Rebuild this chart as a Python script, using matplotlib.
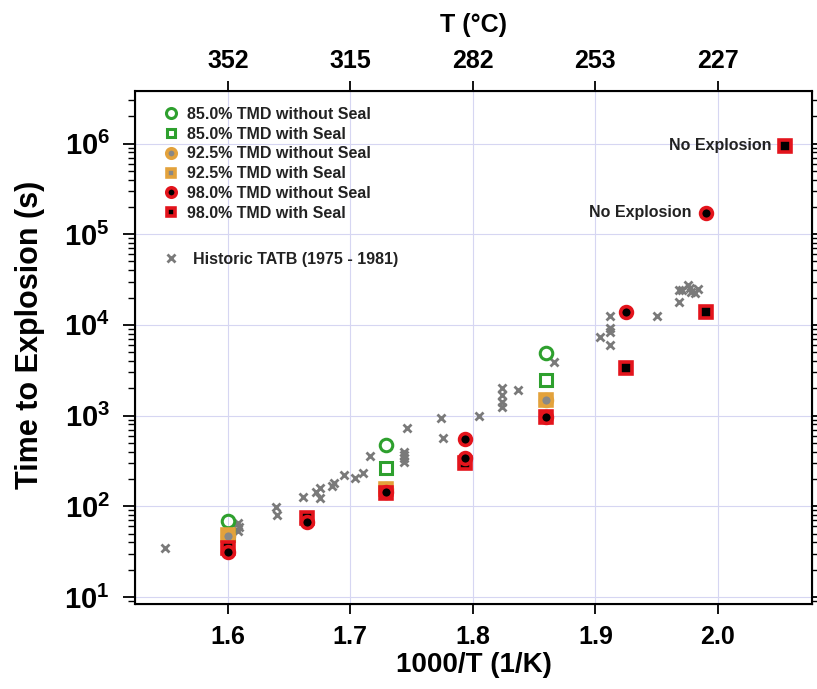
import numpy as np
import matplotlib.pyplot as plt
from matplotlib.ticker import FixedLocator, LogLocator, NullFormatter, FuncFormatter

plt.rcParams['font.family'] = ['Liberation Sans', 'DejaVu Sans']
plt.rcParams['font.weight'] = 'bold'
plt.rcParams['mathtext.fontset'] = 'custom'
plt.rcParams['mathtext.rm'] = 'Liberation Sans:bold'
plt.rcParams['mathtext.bf'] = 'Liberation Sans:bold'

# ODTX results, x = 1000/T (1/K), y = time to explosion (s)
tmd85_open_x = [1.600, 1.729, 1.860]
tmd85_open_y = [69, 472, 4860]
tmd85_seal_x = [1.600, 1.729, 1.860]
tmd85_seal_y = [48, 265, 2470]
tmd925_open_x = [1.600, 1.729, 1.860]
tmd925_open_y = [47, 155, 1480]
tmd925_seal_x = [1.600, 1.729, 1.860]
tmd925_seal_y = [48, 156, 1480]
tmd98_open_x = [1.600, 1.665, 1.729, 1.794, 1.794, 1.860, 1.925, 1.990]
tmd98_open_y = [31, 67, 144, 546, 337, 970, 13800, 173000]
tmd98_seal_x = [1.600, 1.665, 1.729, 1.794, 1.860, 1.925, 1.990, 2.055]
tmd98_seal_y = [34.5, 74, 140, 299, 975, 3350, 13800, 945000]

# historic TATB data set (1975 - 1981)
hist_x = [1.549, 1.608, 1.609, 1.608, 1.639, 1.640, 1.661, 1.672, 1.675, 1.675,
          1.685, 1.687, 1.695, 1.704, 1.710, 1.716, 1.744, 1.744, 1.744, 1.744,
          1.746, 1.774, 1.776, 1.805, 1.824, 1.824, 1.824, 1.824, 1.837, 1.866,
          1.904, 1.912, 1.912, 1.912, 1.912, 1.950, 1.968, 1.968, 1.971, 1.976,
          1.977, 1.978, 1.981, 1.984]
hist_y = [35, 66, 59, 54, 98, 81, 127, 143, 160, 123,
          167, 181, 220, 203, 234, 357, 398, 366, 340, 309,
          722, 931, 569, 980, 2000, 1700, 1420, 1250, 1910, 3930,
          7410, 12540, 9160, 8410, 6000, 12650, 18000, 24300, 24300, 27500,
          25300, 23200, 22300, 24700]

# runs that never went
no_expl_x = [1.990, 2.055]
no_expl_y = [173000, 945000]

inv_ticks = [1.6, 1.7, 1.8, 1.9, 2.0]
temps_c = [round(1000 / v - 273.15) for v in inv_ticks]

green = '#2ea02e'
gold = '#e3a23c'
red = '#e3141c'
txt = '#222222'

fig = plt.figure(figsize=(8.17, 6.89), dpi=100)
ax = fig.add_axes([0.165, 0.123, 0.829, 0.745])

h1, = ax.plot(tmd85_open_x, tmd85_open_y, 'o', ms=9, mfc='none', mec=green, mew=2.2,
              ls='none', label='85.0% TMD without Seal', zorder=3)
h2, = ax.plot(tmd85_seal_x, tmd85_seal_y, 's', ms=8, mfc='none', mec=green, mew=2.2,
              ls='none', label='85.0% TMD with Seal', zorder=3)
h4, = ax.plot(tmd925_seal_x, tmd925_seal_y, 's', ms=8, mfc='#888888', mec=gold, mew=2.6,
              ls='none', label='92.5% TMD with Seal', zorder=3)
h3, = ax.plot(tmd925_open_x, tmd925_open_y, 'o', ms=8.5, mfc='#888888', mec=gold, mew=2.6,
              ls='none', label='92.5% TMD without Seal', zorder=3)
h6, = ax.plot(tmd98_seal_x, tmd98_seal_y, 's', ms=8, mfc='black', mec=red, mew=2.6,
              ls='none', label='98.0% TMD with Seal', zorder=3)
h5, = ax.plot(tmd98_open_x, tmd98_open_y, 'o', ms=8.5, mfc='black', mec=red, mew=2.6,
              ls='none', label='98.0% TMD without Seal', zorder=3)
hh, = ax.plot(hist_x, hist_y, 'x', ms=5.5, mew=2, color='#7a7a7a', ls='none',
              label='Historic TATB (1975 - 1981)', zorder=2)

for x, y in zip(no_expl_x, no_expl_y):
    ax.annotate('No Explosion', xy=(x, y), xytext=(-10, 0), textcoords='offset points',
                ha='right', va='center', fontsize=11.5, fontweight='bold', color=txt)

ax.set_yscale('log')
ax.set_xlim(1.524, 2.077)
ax.set_ylim(8.3, 3.8e6)

ax.xaxis.set_major_locator(FixedLocator(inv_ticks))
ax.set_xticklabels([f'{v:.1f}' for v in inv_ticks])
ax.yaxis.set_major_locator(LogLocator(base=10, numticks=10))
ax.yaxis.set_minor_locator(LogLocator(base=10, subs=np.arange(2, 10), numticks=20))
ax.yaxis.set_minor_formatter(NullFormatter())
ax.yaxis.set_major_formatter(FuncFormatter(lambda v, p: r'$\mathbf{10^{%d}}$' % round(np.log10(v))))

ax.tick_params(axis='x', which='major', direction='out', length=7, width=1.3,
               labelsize=18, pad=8)
ax.tick_params(axis='y', which='major', direction='out', length=9, width=1.3,
               labelsize=21, pad=9, left=True, right=True)
ax.tick_params(axis='y', which='minor', direction='out', length=5, width=1,
               left=True, right=True)

ax.grid(True, which='major', color='#d6d6f2', lw=0.8)
ax.set_axisbelow(True)
for s in ax.spines.values():
    s.set_linewidth(1.5)

ax.set_xlabel('1000/T (1/K)', fontsize=20, fontweight='bold', labelpad=2)
ax.set_ylabel('Time to Explosion (s)', fontsize=22, fontweight='bold')
ax.yaxis.set_label_coords(-0.132, 0.525)

# temperature scale along the top
top = ax.twiny()
top.set_xlim(ax.get_xlim())
top.xaxis.set_major_locator(FixedLocator(inv_ticks))
top.set_xticklabels([str(t) for t in temps_c])
top.tick_params(axis='x', direction='out', length=7, width=1.3, labelsize=18, pad=6)
top.set_xlabel('T (°C)', fontsize=18, fontweight='bold', labelpad=12)

leg1 = ax.legend(handles=[h1, h2, h3, h4, h5, h6], loc='upper left',
                 bbox_to_anchor=(0.02, 0.997), frameon=False,
                 handlelength=1.0, handletextpad=0.5, labelspacing=0.3,
                 markerscale=0.8, labelcolor=txt, prop={'weight': 'bold', 'size': 11.5})
ax.add_artist(leg1)
ax.legend(handles=[hh], loc='upper left', bbox_to_anchor=(0.02, 0.715), frameon=False,
          handlelength=1.0, handletextpad=0.9, labelcolor=txt,
          prop={'weight': 'bold', 'size': 11.5})

fig.savefig('out.png', dpi=100)
